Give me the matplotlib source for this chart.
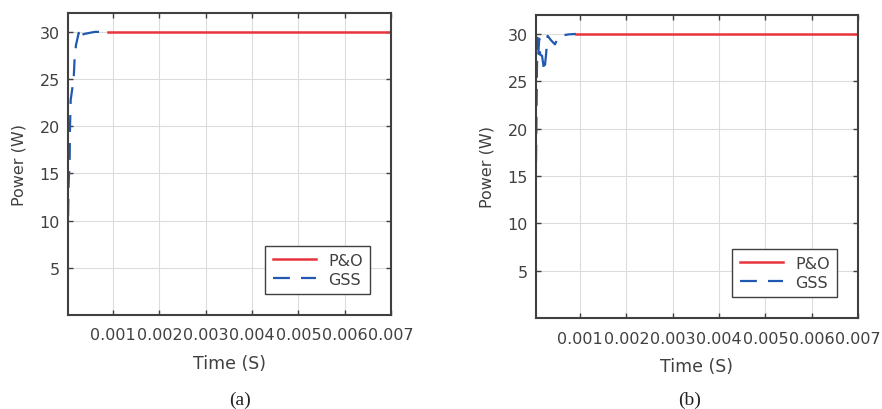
import matplotlib
matplotlib.use('Agg')
import matplotlib.pyplot as plt
import numpy as np

plt.rcParams['font.family'] = ['DejaVu Sans']

# data
x_ticks = [0.001, 0.002, 0.003, 0.004, 0.005, 0.006, 0.007]
x_tick_labels = ['0.001', '0.002', '0.003', '0.004', '0.005', '0.006', '0.007']
y_ticks = [5, 10, 15, 20, 25, 30]

# panel (a)
po_t_a = [0.00089, 0.007]
po_p_a = [30.0, 30.0]
gss_t_a = [0.00003, 0.00004, 0.000065, 0.00007, 0.000086, 0.00015, 0.00017, 0.0002,
           0.00026, 0.00029, 0.00033, 0.0004, 0.0005, 0.00061, 0.00089]
gss_p_a = [10.5, 13.6, 16.8, 19.6, 22.8, 25.0, 27.1, 28.6,
           29.9, 29.2, 29.7, 29.8, 29.9, 30.0, 30.0]

# panel (b)
po_t_b = [0.00091, 0.007]
po_p_b = [30.0, 30.0]
gss_t_b = [0.00005, 0.00006, 0.00007, 0.00008, 0.0001, 0.00012, 0.00014, 0.00018,
           0.00023, 0.00027, 0.0003, 0.00038, 0.00046, 0.00053, 0.00063, 0.00075, 0.00091]
gss_p_b = [16.5, 21.0, 26.0, 29.6, 27.9, 29.5, 27.8, 27.7,
           26.0, 28.0, 29.8, 29.3, 28.9, 29.7, 29.85, 29.95, 30.0]

red = '#e8343c'
blue = '#2158b0'
dark = '#404040'

fig = plt.figure(figsize=(8.82, 4.10), dpi=100)
ax_a = fig.add_axes([68/882, 1-316/410, 323/882, 302/410])
ax_b = fig.add_axes([536/882, 1-319/410, 322/882, 303/410])

panels = [
    (ax_a, po_t_a, po_p_a, gss_t_a, gss_p_a, 0.000028, '(a)', 240),
    (ax_b, po_t_b, po_p_b, gss_t_b, gss_p_b, 0.00005, '(b)', 690),
]

for ax, pt, pp, gt, gp, x0, tag, tag_x in panels:
    ax.plot(pt, pp, color=red, linewidth=1.8, label='P&O')
    l, = ax.plot(gt, gp, color=blue, linewidth=1.6, label='GSS')
    l.set_dashes((7.6, 5.0))
    ax.set_xlim(x0, 0.007)
    ax.set_ylim(0, 32)
    ax.set_xticks(x_ticks)
    ax.set_xticklabels(x_tick_labels)
    ax.set_yticks(y_ticks)
    ax.grid(True, color='#dcdcdc', linewidth=0.8)
    ax.set_axisbelow(True)
    for s in ax.spines.values():
        s.set_color(dark)
        s.set_linewidth(1.5)
    ax.tick_params(direction='in', top=True, right=True, length=3.5, width=1,
                   color=dark, labelcolor=dark, labelsize=11.5)
    ax.tick_params(axis='x', pad=9)
    ax.tick_params(axis='y', pad=6)
    ax.set_xlabel('Time (S)', fontsize=12.5, color=dark, labelpad=8)
    ax.set_ylabel('Power (W)', fontsize=11.5, color=dark, labelpad=9)
    leg = ax.legend(loc='lower right', fontsize=11.5, fancybox=False,
                    edgecolor=dark, framealpha=1, borderaxespad=1.3,
                    handlelength=2.75, handletextpad=0.75, labelspacing=0.25,
                    borderpad=0.45)
    leg.get_frame().set_linewidth(1.0)
    for t in leg.get_texts():
        t.set_color(dark)
    fig.text(tag_x/882, 1-400/410, tag, ha='center', va='center',
             fontsize=14, family='Liberation Serif', color='#222222')

fig.savefig('out.png', dpi=100)
